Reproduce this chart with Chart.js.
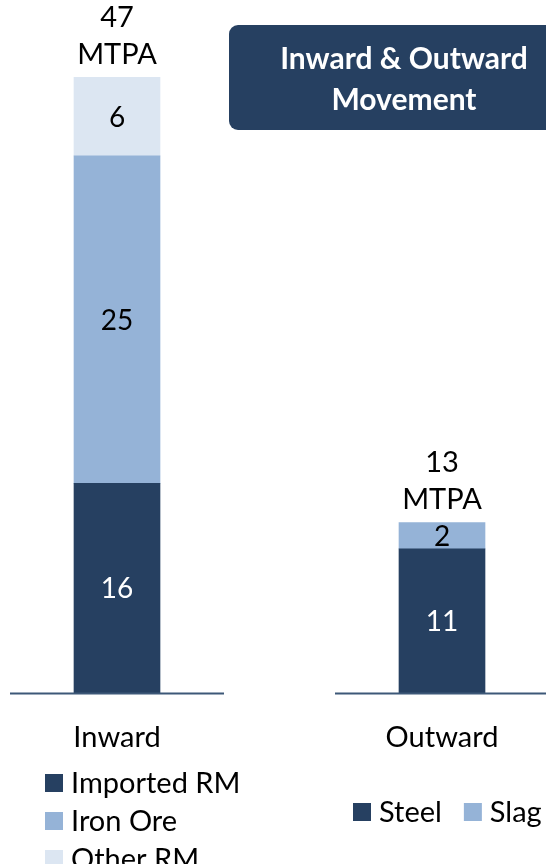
<!DOCTYPE html>
<html>
<head>
<meta charset="utf-8">
<script src="https://cdn.jsdelivr.net/npm/chart.js@4"></script>
<style>
  html, body { margin: 0; padding: 0; background: #fff; }
  #wrap { position: relative; width: 546px; height: 864px; }
</style>
</head>
<body>
<div id="wrap"><canvas id="flowChart" width="546" height="864"></canvas></div>
<script>
const categories = ['Inward', 'Outward'];
const totals = [47, 13];
const totalUnit = 'MTPA';
const importedRM = [16, null];
const ironOre = [25, null];
const otherRM = [6, null];
const steel = [null, 11];
const slag = [null, 2];
const titleLines = ['Inward & Outward', 'Movement'];

const DARK = '#264061';
const MID = '#95b3d7';
const LIGHT = '#dce6f2';
const FONT = 'Lato, "Open Sans", sans-serif';

// label colour per dataset: white on dark, black on light
const labelColors = ['#ffffff', '#000000', '#000000', '#ffffff', '#000000'];
// legend groups per category (dataset indexes)
const legendGroups = [[0, 1, 2], [3, 4]];

const decorPlugin = {
  id: 'decor',
  afterDatasetsDraw(chart) {
    const ctx = chart.ctx;
    const x = chart.scales.x, y = chart.scales.y;
    const base = chart.chartArea.bottom;
    ctx.save();

    // segment labels
    ctx.font = '28px ' + FONT;
    ctx.textAlign = 'center';
    ctx.textBaseline = 'middle';
    chart.data.datasets.forEach((ds, di) => {
      chart.getDatasetMeta(di).data.forEach((bar, i) => {
        if (ds.data[i] == null) return;
        ctx.fillStyle = labelColors[di];
        ctx.fillText(ds.data[i], bar.x, (bar.y + bar.base) / 2 + 1);
      });
    });

    categories.forEach((cat, i) => {
      const cx = x.getPixelForValue(i);
      const top = y.getPixelForValue(totals[i]);
      // totals above bars
      ctx.fillStyle = '#000';
      ctx.font = '29px ' + FONT;
      ctx.fillText(totals[i], cx, top - 60);
      ctx.fillText(totalUnit, cx, top - 23);

      // broken base line
      ctx.strokeStyle = '#3d5878';
      ctx.lineWidth = 2;
      ctx.beginPath();
      ctx.moveTo(cx - 107, base + 0.5);
      ctx.lineTo(cx + 107, base + 0.5);
      ctx.stroke();

      // category label
      ctx.fillStyle = '#000';
      ctx.fillText(cat, cx, base + 45);
    });

    // legends
    ctx.textAlign = 'left';
    ctx.font = '29px ' + FONT;
    const inwardX = x.getPixelForValue(0);
    legendGroups[0].forEach((di, k) => {
      const ly = 783 + k * 38;
      ctx.fillStyle = chart.data.datasets[di].backgroundColor;
      ctx.fillRect(inwardX - 72, ly - 9, 18, 18);
      ctx.fillStyle = '#000';
      ctx.fillText(chart.data.datasets[di].label, inwardX - 46, ly + 1);
    });
    const outX = x.getPixelForValue(1);
    let lx = outX - 89;
    legendGroups[1].forEach(di => {
      const ds = chart.data.datasets[di];
      ctx.fillStyle = ds.backgroundColor;
      ctx.fillRect(lx, 803, 18, 18);
      ctx.fillStyle = '#000';
      ctx.fillText(ds.label, lx + 26, 813);
      lx += 26 + ctx.measureText(ds.label).width + 22;
    });

    // title box
    ctx.fillStyle = DARK;
    ctx.beginPath();
    ctx.roundRect(229, 25, 400, 105, 9);
    ctx.fill();
    ctx.fillStyle = '#fff';
    ctx.textAlign = 'center';
    ctx.font = 'bold 30px ' + FONT;
    ctx.fillText(titleLines[0], 404, 59);
    ctx.fillText(titleLines[1], 404, 100);

    ctx.restore();
  }
};

const mkSet = (label, data, color) => ({
  label, data, backgroundColor: color, stack: 'one', clip: false,
  barThickness: 86, borderWidth: 0
});

new Chart(document.getElementById('flowChart'), {
  type: 'bar',
  data: {
    labels: categories,
    datasets: [
      mkSet('Imported RM', importedRM, DARK),
      mkSet('Iron Ore', ironOre, MID),
      mkSet('Other RM', otherRM, LIGHT),
      mkSet('Steel', steel, DARK),
      mkSet('Slag', slag, MID)
    ]
  },
  options: {
    responsive: false,
    animation: false,
    layout: { padding: { left: 117, right: 104, top: 0, bottom: 171 } },
    plugins: { legend: { display: false }, tooltip: { enabled: false } },
    scales: {
      x: { stacked: true, offset: false, display: false },
      y: { stacked: true, display: false, min: 0, max: 52.9 }
    }
  },
  plugins: [decorPlugin]
});
</script>
</body>
</html>
